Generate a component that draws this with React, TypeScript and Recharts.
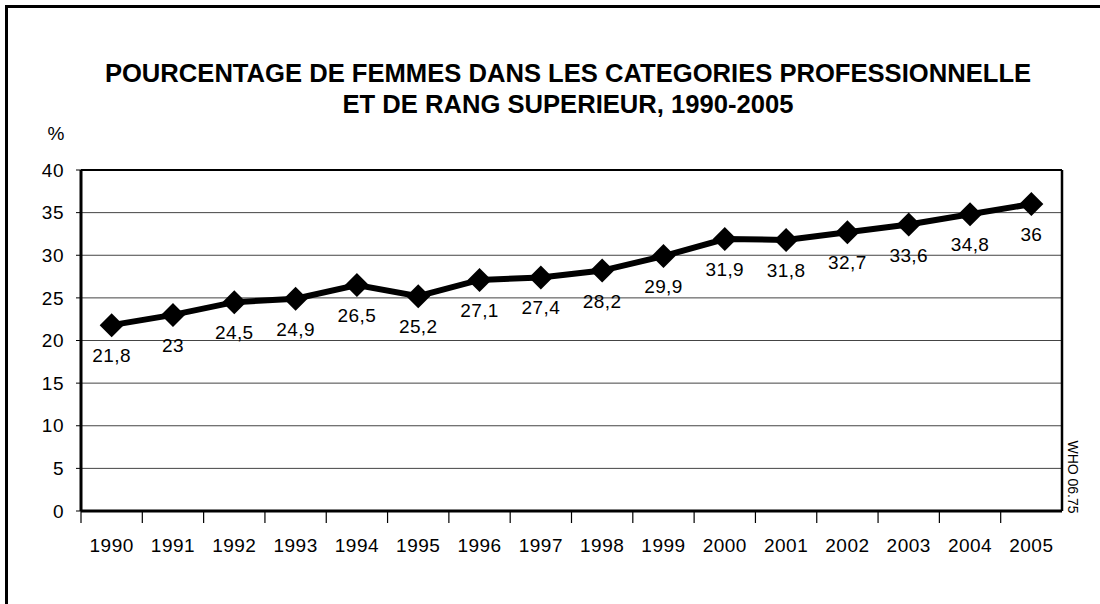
import { CartesianGrid, LabelList, Line, LineChart, ReferenceLine, XAxis, YAxis } from "recharts";

const YEARS = [
  "1990", "1991", "1992", "1993", "1994", "1995", "1996", "1997",
  "1998", "1999", "2000", "2001", "2002", "2003", "2004", "2005",
];
const WOMEN_PCT = [
  21.8, 23, 24.5, 24.9, 26.5, 25.2, 27.1, 27.4,
  28.2, 29.9, 31.9, 31.8, 32.7, 33.6, 34.8, 36,
];
const Y_TICKS = [0, 5, 10, 15, 20, 25, 30, 35, 40];
const TITLE_LINES = [
  "POURCENTAGE DE FEMMES DANS LES CATEGORIES PROFESSIONNELLE",
  "ET DE RANG SUPERIEUR, 1990-2005",
];

const FONT = '"Liberation Sans", Arial, Helvetica, sans-serif';
const TXT = 19;

const data = YEARS.map((year, i) => ({ idx: i, year, value: WOMEN_PCT[i] }));
// boundary ticks (x.5) carry the tick marks, integer ticks carry the labels
const X_TICKS = YEARS.flatMap((_, i) => [i - 0.5, i]);

function XTick({ x, y, payload }: { x?: number; y?: number; payload?: { value: number } }) {
  const v = payload?.value ?? 0;
  if (Number.isInteger(v)) {
    return (
      <text x={x} y={(y ?? 0) + 41} textAnchor="middle" fontSize={TXT} letterSpacing={0.5} fill="#000" fontFamily={FONT}>
        {YEARS[v]}
      </text>
    );
  }
  return <line x1={x} x2={x} y1={y} y2={(y ?? 0) + 12} stroke="#000" strokeWidth={1.2} />;
}

function Diamond({ cx, cy }: { cx?: number; cy?: number }) {
  if (cx == null || cy == null) return null;
  const r = 12;
  return (
    <polygon
      points={`${cx},${cy - r} ${cx + r},${cy} ${cx},${cy + r} ${cx - r},${cy}`}
      fill="#000"
    />
  );
}

function ValueLabel(props: { x?: number | string; y?: number | string; value?: number | string }) {
  const x = Number(props.x);
  const y = Number(props.y);
  return (
    <text x={x} y={y + 37} textAnchor="middle" fontSize={TXT} letterSpacing={0.4} fill="#000" fontFamily={FONT}>
      {String(props.value).replace(".", ",")}
    </text>
  );
}

export default function App() {
  return (
    <div
      style={{
        position: "absolute",
        left: 0,
        top: 0,
        width: 1100,
        height: 604,
        background: "#fff",
        overflow: "hidden",
        fontFamily: FONT,
      }}
    >
      <div
        style={{
          position: "absolute",
          left: 5,
          top: 5,
          right: -10,
          bottom: -10,
          borderLeft: "3px solid #000",
          borderTop: "3px solid #000",
        }}
      />
      <LineChart
        width={1100}
        height={604}
        data={data}
        margin={{ top: 170, right: 38, bottom: 33, left: 0 }}
        style={{ position: "absolute", left: 0, top: 0 }}
      >
        <CartesianGrid vertical={false} stroke="#444" strokeWidth={1} />
        <XAxis
          dataKey="idx"
          type="number"
          domain={[-0.5, 15.5]}
          ticks={X_TICKS}
          interval={0}
          height={60}
          tickLine={false}
          tickSize={0}
          tickMargin={0}
          axisLine={{ stroke: "#000", strokeWidth: 3 }}
          tick={<XTick />}
        />
        <YAxis
          domain={[0, 40]}
          ticks={Y_TICKS}
          width={81}
          tickSize={5}
          tickMargin={12}
          tickLine={{ stroke: "#000", strokeWidth: 1 }}
          axisLine={{ stroke: "#000", strokeWidth: 3 }}
          tick={{ fill: "#000", fontSize: TXT, fontFamily: FONT, letterSpacing: 0.5 }}
        />
        <ReferenceLine y={40} stroke="#000" strokeWidth={2} />
        <ReferenceLine x={15.5} stroke="#000" strokeWidth={2.5} />
        <Line
          dataKey="value"
          stroke="#000"
          strokeWidth={6}
          dot={<Diamond />}
          activeDot={false}
          isAnimationActive={false}
        >
          <LabelList dataKey="value" content={<ValueLabel />} />
        </Line>
      </LineChart>
      <svg
        width={1100}
        height={604}
        style={{ position: "absolute", left: 0, top: 0, pointerEvents: "none" }}
      >
        {TITLE_LINES.map((t, i) => (
          <text
            key={t}
            x={568}
            y={82 + i * 31}
            textAnchor="middle"
            fontSize={25.6}
            fontWeight="bold"
            fontFamily={FONT}
            fill="#000"
          >
            {t}
          </text>
        ))}
        <text x={56} y={140} textAnchor="middle" fontSize={TXT} fontFamily={FONT} fill="#000">
          %
        </text>
        <text
          x={1073}
          y={477}
          textAnchor="middle"
          dominantBaseline="central"
          fontSize={14}
          fontFamily={FONT}
          fill="#000"
          transform="rotate(90, 1073, 477)"
        >
          WHO 06.75
        </text>
      </svg>
    </div>
  );
}
